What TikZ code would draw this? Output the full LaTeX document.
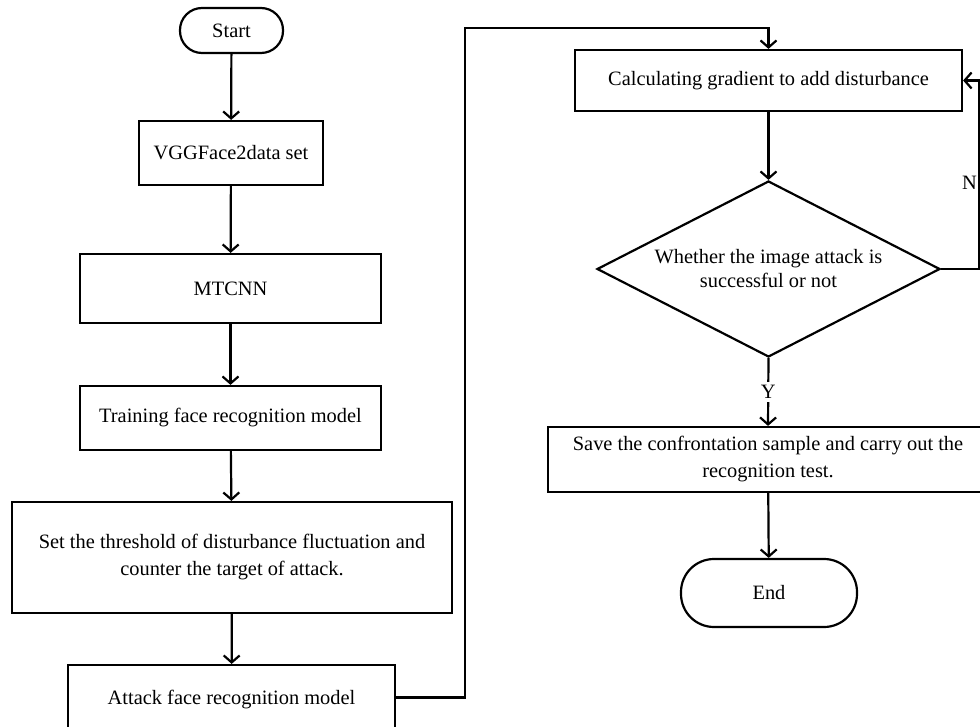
\documentclass[tikz,border=0pt]{standalone}
\usepackage{fontspec}
\setmainfont{Liberation Serif}
\usetikzlibrary{shapes.geometric,arrows.meta}
\begin{document}
\begin{tikzpicture}[x=1pt,y=-1pt,
  txt/.style={font=\fontsize{20.4}{27}\selectfont},
  box/.style={draw,line width=2.2pt,rectangle,inner sep=0pt,align=center,txt},
  term/.style={box,rounded corners=22pt},
  dec/.style={draw,line width=2.2pt,diamond,shape aspect=1.95,inner sep=0pt,align=center,font=\fontsize{20.4}{24}\selectfont},
  ln/.style={line width=2.2pt},
  arr/.style={ln,-{Straight Barb[length=7pt,width=16pt,line width=2.2pt]}}]
\useasboundingbox (0,0) rectangle (980,727);
\clip (0,0) rectangle (980,727);
\node[term,minimum width=103pt,minimum height=45pt] (start) at (231.5,30.5) {Start};
\node[box,minimum width=184pt,minimum height=64pt] (vgg) at (231,153) {VGGFace2data set};
\node[box,minimum width=301pt,minimum height=69pt] (mtcnn) at (230.5,288.5) {MTCNN};
\node[box,minimum width=301pt,minimum height=64pt] (train) at (230.5,418) {Training face recognition model};
\node[box,minimum width=440pt,minimum height=111pt] (set) at (232,557.5) {Set the threshold of disturbance fluctuation and\\counter the target of attack.};
\node[box,minimum width=327pt,minimum height=95pt,text depth=30pt] (attack) at (231.5,712.5) {Attack face recognition model};
\node[box,minimum width=387pt,minimum height=61pt] (calc) at (768.5,80.5) {Calculating gradient to add disturbance};
\node[dec,minimum width=343pt,minimum height=176pt] (dec) at (768.5,269) {Whether the image attack is\\successful or not};
\node[box,minimum width=440pt,minimum height=65pt] (save) at (768,459.5) {Save the confrontation sample and carry out the\\recognition test.};
\node[term,rounded corners=33pt,minimum width=176pt,minimum height=68pt] (end) at (769,593) {End};
\coordinate (bend) at (465,28);
\coordinate (loop) at (979,269);

\draw[arr] (start) -- (vgg);
\draw[arr] (vgg) -- (mtcnn);
\draw[arr] (mtcnn) -- (train);
\draw[arr] (train) -- (set);
\draw[arr] (set) -- (attack);
\draw[arr] ([yshift=15pt]attack.east) -| (bend) -| (calc.north);
\draw[arr] (calc) -- (dec);
\draw[arr] (dec.south) -- node[fill=white,inner sep=3pt,txt]{Y} (save.north);
\draw[arr] (save) -- (end);
\draw[arr] (dec.east) -- (loop) |- (calc.east);
\node[txt,inner sep=0pt,anchor=east] (nlab) at (977,183) {N};
\end{tikzpicture}
\end{document}
